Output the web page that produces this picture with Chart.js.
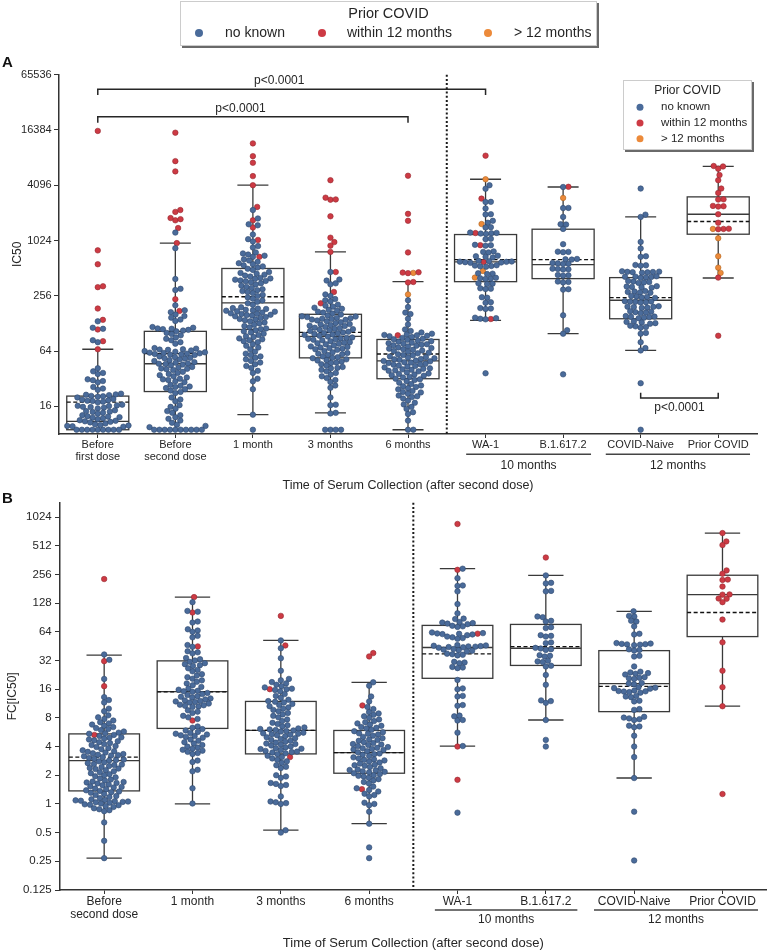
<!DOCTYPE html>
<html>
<head>
<meta charset="utf-8">
<title>IC50 / FC[IC50] by time of serum collection</title>
<script src="https://cdn.jsdelivr.net/npm/chart.js@4"></script>
<style>
  body { margin: 0; background: #fff; overflow: hidden; }
  #wrap { position: relative; width: 767px; height: 951px; overflow: hidden; }
  canvas { position: absolute; left: 0; }
  #cA { top: 0; }
  #cB { top: 488px; }
</style>
</head>
<body>
<div id="wrap">
  <canvas id="cA" width="767" height="500"></canvas>
  <canvas id="cB" width="770" height="463"></canvas>
</div>
<script>
const FONT = "'Liberation Sans', Arial, sans-serif";
const TEXT = '#262626';
const hueNames = ['no known', 'within 12 months', '> 12 months'];
const hueFill = ['#4a6b9a', '#cd3a44', '#ec8a3a'];
const hueEdge = ['#30496f', '#962a31', '#b0651f'];

// ---------- panel A : IC50 ----------
const catsA = [['Before', 'first dose'], ['Before', 'second dose'], '1 month', '3 months', '6 months',
               'WA-1', 'B.1.617.2', 'COVID-Naive', 'Prior COVID'];
const ticksA = [16, 64, 256, 1024, 4096, 16384, 65536];

const icNoKnown = [
  [135, 115, 112, 84, 80, 41.6, 38.5, 36, 37, 31.5, 30.2, 29.2, 30.8, 26, 25, 24.2,
   22, 21.6, 21.2, 20.8, 20.4, 20, 21.4, 20.6, 19.2, 18.9, 18.6, 18.3, 18, 17.7, 18.4,
   16.7, 16.4, 16.1, 15.8, 15.5, 15.2, 16.2, 15.7, 14.5, 14.2, 13.9, 13.6, 13.3, 14,
   12.8, 12.5, 12.2, 11.9, 11.6, 12.35, 12.05, 11.3, 11.0, 10.7, 10.4, 11.15, 10.85,
   10.2, 10.0, 9.8, 9.6, 9.9, 9.7, 8.9, 8.9, 8.9, 8.9, 8.9, 8.9, 8.9, 8.9, 8.9],
  [1250, 845, 390, 305, 296, 202, 178, 170, 160, 154, 148, 141, 136,
   117, 115, 113, 111, 109, 107, 105, 112, 101, 98, 95, 90, 87, 84, 80, 77,
   69, 68, 67, 66, 65, 64, 63, 62, 66.5, 61.5, 61, 60.5, 60, 59.5, 59, 58.5, 58,
   56, 55, 54, 53, 52, 51, 50, 53.5, 48.5, 47.8, 47, 46.3, 45.6, 44.9, 46.6,
   43, 42.2, 41.4, 40.6, 39.8, 41, 38, 37, 36, 35, 34, 33, 32, 31, 30, 29.3, 31.5,
   27.5, 26.8, 26, 25.3, 24.6, 26.3, 23.8, 23, 22.3, 20, 19, 18.2, 16.5, 15.8, 15.1, 14.2, 13.6,
   12.8, 12.2, 11.7, 11.2, 10.6, 10.1, 9.8, 9.5, 8.9, 8.9, 8.9, 8.9, 8.9, 8.9, 8.9, 8.9, 8.9, 8.9],
  [2200, 1780, 1500, 1540, 1190, 1060, 1000, 860, 890, 760, 740, 720, 700, 680,
   640, 620, 600, 580, 565, 550, 535, 520, 505, 490, 465, 455, 445, 435, 425, 415,
   400, 392, 384, 376, 368, 360, 396, 372, 350, 340, 330, 320, 312, 302, 295, 288, 281, 274,
   262, 254, 246, 238, 228, 220, 212, 204, 192, 188, 184, 180, 176, 172, 168, 186, 178, 174,
   165, 162, 159, 156, 153, 150, 158, 163, 147, 143, 139, 135, 131, 141, 128, 124, 120, 116, 113,
   111, 108, 105, 102, 99, 96, 93, 91, 88, 86, 84, 82, 80, 76, 73, 70, 67,
   63, 60, 58, 56, 54, 52, 50, 48, 46, 44, 42, 39, 37, 32, 30, 24.6, 13, 8.9],
  [465, 385, 375, 342, 350, 265, 255, 236, 229, 222, 205, 200, 195, 190, 185, 180, 176, 172, 168, 164, 160,
   156, 153, 150, 147, 144, 141, 138, 135, 152, 146, 140, 143, 132, 129, 126, 123, 120, 117, 125, 121,
   115, 112, 109, 106, 111, 114, 108, 104, 102, 100, 98, 96, 94, 101, 97,
   92, 90, 88, 86, 84, 89, 87, 85, 82, 80, 78, 76, 74, 79, 77, 72, 70, 68, 66, 64, 71, 69, 67,
   62, 60, 58, 56, 61, 59, 55, 53.5, 52, 50.5, 54, 51, 49, 47.5, 46, 44.5, 48, 43, 41.5, 40, 38.5, 42,
   37, 35.5, 34, 32.5, 31, 29.5, 27, 25.5, 20, 16.7, 16.5, 13.6, 13.4, 8.9, 8.9, 8.9, 8.9],
  [229, 193, 168, 162, 144, 125, 110, 106, 102, 99, 97, 95, 93, 91, 96, 94,
   89, 87, 85, 83, 81, 79, 86, 82, 78, 76, 74, 72, 70, 77, 73, 75,
   69, 67, 65, 63, 61.5, 68, 66, 64, 60.5, 59, 57.5, 56, 54.5, 53.5, 58, 55,
   52.5, 51.5, 50.5, 49.5, 48.5, 47.5, 52, 50, 48, 46.5, 45.5, 44.5, 43.5, 42.5, 46, 44,
   41.5, 40.5, 39.5, 38.5, 41, 40, 39, 37.5, 36.5, 35.5, 34.5, 33.5, 36, 35,
   33, 32, 31, 30, 29, 31.5, 28, 27, 26, 25.2, 26.5, 24.5, 23.5, 22.7, 22, 23,
   21, 20.2, 19.5, 20.6, 18.5, 17.5, 16.8, 15.8, 15, 13.8, 13.2, 11.2, 8.9, 8.9],
  [4100, 3750, 2700, 2690, 2290, 1980, 1970, 1600, 1680, 1430, 1420, 1230, 1240, 1220, 1250, 1210,
   1060, 1070, 910, 920, 900, 770, 780, 760, 680, 690, 670, 700, 600, 605, 595, 610, 590, 615, 585, 603,
   541, 546, 536, 551, 531, 446, 450, 442, 394, 398, 390, 402, 347, 350, 344, 306, 309, 303,
   244, 247, 215, 218, 186, 188, 184, 144, 146, 142, 148, 36.7],
  [3920, 2320, 2310, 1850, 1540, 1530, 1370, 935, 770, 775, 765, 640, 645, 635, 573, 578, 568, 583,
   498, 502, 494, 506, 428, 432, 424, 362, 366, 358, 299, 302, 157, 108, 99, 35.7],
  [3770, 1960, 1850, 990, 840, 680, 690, 550, 555, 545, 465, 469, 461, 473, 457, 467, 463,
   410, 414, 406, 418, 402, 412, 362, 366, 358, 370, 354, 320, 323, 317, 326, 314,
   282, 285, 279, 288, 276, 249, 252, 246, 255, 243, 220, 222, 218, 224, 216, 221,
   193, 195, 191, 197, 189, 194, 170, 172, 168, 174, 166, 150, 152, 148, 154, 146, 151,
   131, 133, 129, 135, 127, 117, 119, 115, 121, 99, 101, 80, 69, 65, 28.6, 8.9],
  []
];
const icWithin12 = [
  [16000, 800, 565, 325, 318, 186, 140, 110, 82, 67],
  [15300, 7500, 5800, 2200, 2100, 1700, 1750, 1800, 1400, 960, 235, 175],
  [11700, 8500, 7200, 5150, 4100, 2380, 1700, 1420, 1040, 680],
  [4650, 2850, 2870, 3000, 1880, 1100, 985, 900, 770, 465, 282, 212],
  [5200, 2000, 1680, 760, 452, 458, 462, 362, 358, 95],
  [8600, 2930, 1235, 912, 598, 143],
  [3940],
  [],
  [6560, 6640, 6200, 5290, 4650, 3770, 3380, 2860, 2880, 2420, 2400, 2440, 1980, 1600, 1370, 1362, 1378, 404, 94]
];
const icOver12 = [[], [], [], [], [455, 265], [4760, 1550, 478, 404], [2980], [], [1370, 1085, 690, 519, 455]];

const icQ1     = [8.9, 23.2, 110, 54, 32, 365, 394, 144, 1200];
const icMedian = [11, 46.6, 214, 92.5, 50, 600, 560, 229, 1980];
const icMean   = [17.8, 60, 250, 102.5, 59.5, 635, 635, 244, 1650];
const icQ3     = [20.7, 105, 508, 161, 85.6, 1190, 1360, 404, 3060];
const icLow    = [8.9, 8.9, 13, 13.6, 8.9, 138, 99, 65, 400];
const icHigh   = [67, 960, 4100, 770, 365, 4760, 3920, 1850, 6560];

// significance brackets: from / to category, bracket level, tip level, text position
const sigA = [
  { from: 0, to: 5, y: 45400, tip: 39300, textX: 2.34, below: false },
  { from: 0, to: 4, y: 22900, tip: 19600, textX: 1.84, below: false },
  { from: 7, to: 8, y: 19.7, tip: 22.5, textX: 7.5, below: true }
];

// ---------- panel B : FC[IC50] ----------
const catsB = [['Before', 'second dose'], '1 month', '3 months', '6 months',
               'WA-1', 'B.1.617.2', 'COVID-Naive', 'Prior COVID'];
const ticksB = [0.125, 0.25, 0.5, 1, 2, 4, 8, 16, 32, 64, 128, 256, 512, 1024];

const fcNoKnown = [
  [37, 32.5, 20.5, 13.2, 12.3, 11.6, 10, 9.4, 8.5, 8.1, 7.8, 7.5, 7.2, 7.0, 6.8, 6.6, 6.4, 6.25, 6.1, 5.95,
   5.75, 5.6, 5.45, 5.3, 5.15, 5.0, 5.5, 4.95, 4.85, 4.75, 4.65, 4.55, 4.45, 4.35, 4.25, 4.15, 4.05,
   3.95, 3.85, 3.75, 3.65, 3.58, 3.52, 3.46, 3.4, 3.34, 3.28, 3.22, 3.16, 3.1, 3.04, 3.25,
   2.98, 2.92, 2.86, 2.8, 2.74, 2.89, 2.68, 2.62, 2.56, 2.5, 2.44, 2.59, 2.38, 2.32, 2.26, 2.2, 2.35,
   2.15, 2.1, 2.05, 2.0, 1.95, 1.9, 1.85, 1.8, 1.76, 1.72, 1.68, 1.64, 1.6, 1.7, 1.66,
   1.57, 1.53, 1.49, 1.45, 1.51, 1.43, 1.39, 1.35, 1.31, 1.27, 1.37, 1.33, 1.24, 1.21, 1.18, 1.15,
   1.12, 1.1, 1.08, 1.06, 1.04, 1.09, 1.07, 1.05, 1.03, 1.01, 0.99, 0.97, 0.95, 0.93, 0.98,
   0.9, 0.88, 0.86, 0.84, 0.64, 0.41, 0.27],
  [131, 106, 104, 82, 80, 68, 66, 64, 58, 56, 46.5, 44.5, 40, 39, 38, 34, 33, 32, 31, 30, 29.3, 28.6, 28,
   26.5, 25.5, 24.6, 23, 22.2, 21.4, 20.6, 19.8, 19.1, 18.4, 17.6, 16.9, 16.3,
   15.8, 15.4, 15, 14.6, 14.2, 15.2, 13.9, 13.5, 13.1, 12.8, 13.3,
   12.5, 12.2, 11.9, 11.6, 11.3, 12.05, 11.75, 11.0, 10.7, 10.4, 10.85, 10.55,
   9.6, 9.3, 9, 8.4, 8.1, 7.8, 6.5, 6.3, 6.1, 5.9, 5.7, 5.55, 5.45, 5.35, 5.25, 5.15, 5.05, 4.95,
   4.75, 4.6, 4.45, 4.3, 4.15, 4.0, 3.9, 3.8, 3.7, 3.62, 3.52, 3.42, 3.34, 2.85, 2.75, 2.28, 2.2, 1.46, 1.01],
  [52, 43, 33.8, 25, 20.5, 19.8, 19, 18.4, 17.8, 17.2, 16.7, 16.2, 15.7, 15.2, 16, 14.2, 13.6, 13,
   12.4, 12.0, 11.6, 11.2, 10.9, 11.8, 10.6, 10.3, 10, 9.7, 9.4, 9, 8.7, 8.4, 8.1,
   7.7, 7.4, 7.1, 6.9, 6.7, 6.5, 6.35, 6.2, 6.05, 5.9, 5.75, 5.6, 6.12, 5.97, 5.82,
   5.5, 5.38, 5.26, 5.14, 5.32, 5.44, 5.0, 4.9, 4.8, 4.7, 4.6, 4.5,
   4.4, 4.3, 4.2, 4.1, 4.0, 4.25, 3.92, 3.84, 3.76, 3.68, 3.6, 3.8, 3.54, 3.47, 3.4, 3.33, 3.5,
   3.2, 3.1, 3.0, 2.9, 2.8, 2.7, 2.55, 2.45, 2.38, 2.0, 1.94, 1.88, 1.66, 1.62, 1.58, 1.54,
   1.2, 1.06, 1.04, 1.02, 1.0, 0.53, 0.5],
  [18.9, 17.4, 13.4, 11.9, 10.4, 9.9, 9.2, 8.9, 8.6, 8.3, 8.0, 7.7, 7.4, 7.2, 7.0, 6.8,
   6.6, 6.4, 6.2, 6.0, 5.8, 6.3, 5.65, 5.5, 5.35, 5.2, 5.45, 5.05, 4.9, 4.75, 4.6, 4.45, 4.7,
   4.35, 4.25, 4.15, 4.05, 3.95, 4.2, 3.88, 3.78, 3.68, 3.58, 3.83, 3.73,
   3.48, 3.38, 3.28, 3.18, 3.08, 3.33, 3.0, 2.93, 2.86, 2.79, 2.72, 2.9,
   2.65, 2.58, 2.51, 2.44, 2.37, 2.55, 2.3, 2.25, 2.2, 2.15, 2.1, 2.27, 2.17,
   2.06, 2.0, 1.94, 1.88, 1.82, 1.97, 1.76, 1.7, 1.64, 1.52, 1.46, 1.4, 1.35, 1.28, 1.24, 1.2,
   1.03, 1.0, 0.97, 0.83, 0.62, 0.35, 0.27],
  [294, 234, 194, 196, 170, 125, 100, 87, 88, 79, 80, 78, 81, 77, 73, 74, 72, 61, 62, 60, 63, 59, 61.5, 60.5,
   55, 56, 54, 57, 45, 45.7, 44.3, 46.4, 43.6, 45.3, 44.7, 46, 44, 41, 41.6, 40.4, 42.2, 39.8,
   36.7, 37.2, 36.2, 37.7, 30.5, 31, 30, 27, 27.4, 26.6, 20, 16, 16.3, 13.4, 13.6, 10.7, 10.9,
   8.3, 8.45, 7.5, 7.6, 5.6, 4.05, 0.81],
  [250, 206, 209, 170, 172, 91, 92.5, 82, 83.5, 70, 71.5, 58, 59, 57, 48.6, 49.5, 42, 42.7, 41.3, 43.4,
   35.8, 36.4, 35.2, 31.3, 31.8, 30.8, 27.7, 28.2, 22.6, 17.8, 12, 12.2, 11.5, 7.6, 4.7, 4.0],
  [105, 92.5, 94, 82, 83.5, 73, 60, 61, 47.5, 48.1, 46.9, 48.7, 46.3, 47.8, 47.2, 41.3, 41.9, 40.7,
   35.2, 35.8, 27.7, 23.6, 24, 23.2, 24.4, 22.8, 20.8, 21.1, 20.5, 21.4, 18.3, 18.6, 18,
   16.4, 16.6, 16.2, 16.8, 15.1, 15.3, 14.9, 15.5, 14.7, 15.2, 13.4, 13.6, 13.2, 11.9, 12.1, 9.7, 9.9,
   7.9, 8.05, 7.75, 8.2, 7.6, 6.5, 6.62, 6.38, 5.2, 4.0, 3.1, 1.87, 0.83, 0.255],
  []
];
const fcWithin12 = [
  [229, 31.5, 17.2, 5.3],
  [148, 102, 45, 7.5],
  [94, 46, 16, 3.1],
  [38.3, 35.3, 10.8, 1.43],
  [866, 286, 61.2, 4.0, 1.79],
  [385],
  [],
  [695, 568, 520, 282, 260, 224, 226, 191, 157, 158, 142, 143, 131, 86, 49.6, 25, 16.8, 10.6, 1.27]
];
const fcOver12 = [[], [], [], [], [], [], [], []];

const fcQ1     = [1.37, 6.2, 3.35, 2.1, 20.8, 28.4, 9.3, 57];
const fcMedian = [2.85, 15.1, 5.9, 3.46, 43.8, 43, 18.3, 157];
const fcMean   = [3.1, 15, 5.9, 3.46, 37.5, 44.7, 17.1, 102];
const fcQ3     = [5.43, 31.7, 11.9, 5.9, 74.7, 76.5, 40.6, 251];
const fcLow    = [0.27, 1.0, 0.53, 0.62, 4.05, 7.6, 1.87, 10.6];
const fcHigh   = [36.5, 148, 52, 18.9, 294, 250, 105, 695];

// ---------- drawing helpers ----------
function boxPlugin(st) {
  return {
    id: 'boxes',
    beforeDatasetsDraw(chart) {
      const { ctx, scales: { x, y } } = chart;
      const unit = x.getPixelForValue(1) - x.getPixelForValue(0);
      const hw = unit * 0.4, cw = unit * 0.2;
      const py = v => y.getPixelForValue(v);
      ctx.save();
      ctx.lineWidth = 1.3;
      st.q1.forEach((q1, i) => {
        const cx = x.getPixelForValue(i);
        const yQ1 = py(q1), yQ3 = py(st.q3[i]), yLo = py(st.lo[i]), yHi = py(st.hi[i]);
        ctx.strokeStyle = '#3a3a3a';
        ctx.setLineDash([]);
        ctx.beginPath();
        ctx.moveTo(cx, yQ3); ctx.lineTo(cx, yHi);
        ctx.moveTo(cx - cw, yHi); ctx.lineTo(cx + cw, yHi);
        ctx.moveTo(cx, yQ1); ctx.lineTo(cx, yLo);
        ctx.moveTo(cx - cw, yLo); ctx.lineTo(cx + cw, yLo);
        ctx.stroke();
        ctx.strokeRect(cx - hw, yQ3, 2 * hw, yQ1 - yQ3);
        ctx.beginPath();
        ctx.moveTo(cx - hw, py(st.med[i])); ctx.lineTo(cx + hw, py(st.med[i]));
        ctx.stroke();
        ctx.setLineDash([4, 2.5]);
        ctx.strokeStyle = '#111';
        ctx.beginPath();
        ctx.moveTo(cx - hw, py(st.mean[i])); ctx.lineTo(cx + hw, py(st.mean[i]));
        ctx.stroke();
      });
      ctx.restore();
    }
  };
}

function drawLegend(ctx, L) {
  ctx.save();
  ctx.fillStyle = '#6a6a6a';
  ctx.fillRect(L.x + 2, L.y + 2, L.w, L.h);
  ctx.fillStyle = '#fff';
  ctx.fillRect(L.x, L.y, L.w, L.h);
  ctx.strokeStyle = '#cccccc';
  ctx.lineWidth = 1;
  ctx.strokeRect(L.x + 0.5, L.y + 0.5, L.w - 1, L.h - 1);
  ctx.fillStyle = TEXT;
  ctx.textAlign = 'center';
  ctx.textBaseline = 'middle';
  ctx.font = L.titleSize + 'px ' + FONT;
  ctx.fillText('Prior COVID', L.titleX, L.titleY);
  ctx.font = L.size + 'px ' + FONT;
  ctx.textAlign = 'left';
  L.items.forEach((it, h) => {
    ctx.beginPath();
    ctx.arc(it.dx, it.y, L.r, 0, Math.PI * 2);
    ctx.fillStyle = hueFill[h];
    ctx.fill();
    ctx.fillStyle = TEXT;
    ctx.fillText(hueNames[h], it.tx, it.y);
  });
  ctx.restore();
}

function annotPlugin(a) {
  return {
    id: 'annot',
    beforeDatasetsDraw(chart) {
      const { ctx, chartArea: ca, scales: { x } } = chart;
      const sx = x.getPixelForValue(a.sep);
      ctx.save();
      ctx.strokeStyle = '#1a1a1a';
      ctx.lineWidth = 2;
      ctx.setLineDash([2, 2.2]);
      ctx.beginPath();
      ctx.moveTo(sx, ca.top); ctx.lineTo(sx, ca.bottom);
      ctx.stroke();
      ctx.restore();
    },
    afterDatasetsDraw(chart) {
      const { ctx, scales: { x, y } } = chart;
      ctx.save();
      ctx.strokeStyle = TEXT;
      ctx.fillStyle = TEXT;
      ctx.lineWidth = 1.5;
      ctx.font = '12px ' + FONT;
      ctx.textAlign = 'center';
      (a.sig || []).forEach(s => {
        const x1 = x.getPixelForValue(s.from), x2 = x.getPixelForValue(s.to);
        const yl = y.getPixelForValue(s.y), yt = y.getPixelForValue(s.tip);
        ctx.beginPath();
        ctx.moveTo(x1, yt); ctx.lineTo(x1, yl); ctx.lineTo(x2, yl); ctx.lineTo(x2, yt);
        ctx.stroke();
        ctx.textBaseline = s.below ? 'middle' : 'alphabetic';
        ctx.fillText('p<0.0001', x.getPixelForValue(s.textX), s.below ? yl + 10 : yl - 5);
      });
      ctx.restore();
    },
    afterDraw(chart) {
      const { ctx, chartArea: ca, scales: { x } } = chart;
      ctx.save();
      ctx.strokeStyle = '#444';
      ctx.fillStyle = TEXT;
      ctx.lineWidth = 1.5;
      ctx.font = '12px ' + FONT;
      ctx.textAlign = 'center';
      ctx.textBaseline = 'middle';
      a.spans.forEach(sp => {
        const x1 = x.getPixelForValue(sp.from), x2 = x.getPixelForValue(sp.to);
        ctx.beginPath();
        ctx.moveTo(x1, ca.bottom + a.lineDy); ctx.lineTo(x2, ca.bottom + a.lineDy);
        ctx.stroke();
        ctx.fillText(sp.text, (x1 + x2) / 2, ca.bottom + a.textDy);
      });
      ctx.font = 'bold 15px ' + FONT;
      ctx.textAlign = 'left';
      ctx.fillStyle = '#111';
      ctx.fillText(a.letter, 2, a.letterY);
      ctx.restore();
      (a.legends || []).forEach(L => drawLegend(ctx, L));
    }
  };
}

function makeChart(id, cfg) {
  const datasets = [cfg.blue, cfg.red, cfg.orange].map((groups, h) => ({
    label: hueNames[h],
    data: groups.flatMap((vals, g) => vals.map(v => ({ x: g, y: v, g: g }))),
    backgroundColor: hueFill[h],
    borderColor: hueEdge[h],
    borderWidth: 0.6,
    pointRadius: 2.75,
    pointHoverRadius: 2.75
  }));
  const tickFont = { family: FONT, size: cfg.xFont, lineHeight: cfg.xLine };
  return new Chart(document.getElementById(id), {
    type: 'scatter',
    data: { datasets },
    options: {
      responsive: false,
      animation: false,
      devicePixelRatio: 1,
      events: [],
      layout: { padding: cfg.padding },
      plugins: { legend: { display: false }, tooltip: { enabled: false } },
      scales: {
        x: {
          type: 'linear',
          min: -0.5,
          max: cfg.cats.length - 0.5,
          afterBuildTicks: s => { s.ticks = cfg.cats.map((c, i) => ({ value: i })); },
          afterFit: s => { s.height = cfg.xHeight; },
          ticks: {
            callback: v => cfg.cats[v],
            font: tickFont, color: TEXT, padding: cfg.xPad,
            maxRotation: 0, autoSkip: false
          },
          grid: { drawOnChartArea: false, drawTicks: true, tickLength: 4, color: '#333' },
          border: { display: true, color: '#333', width: 1.5 },
          title: {
            display: true,
            text: 'Time of Serum Collection (after second dose)',
            font: { family: FONT, size: cfg.titleFont },
            color: TEXT,
            padding: { top: 0, bottom: cfg.titlePad }
          }
        },
        y: {
          type: 'logarithmic',
          min: cfg.yMin,
          max: cfg.yMax,
          afterBuildTicks: s => { s.ticks = cfg.yTicks.map(v => ({ value: v })); },
          afterFit: s => { s.width = cfg.yWidth; },
          ticks: {
            callback: v => String(v),
            font: { family: FONT, size: cfg.yFont }, color: TEXT, padding: cfg.yPad, autoSkip: false
          },
          grid: { drawOnChartArea: false, drawTicks: true, tickLength: 5, color: '#333' },
          border: { display: true, color: '#333', width: 1.5 },
          title: {
            display: true, text: cfg.yTitle,
            font: { family: FONT, size: 12 }, color: TEXT,
            padding: { top: cfg.yTitlePad, bottom: 0 }
          }
        }
      }
    },
    plugins: [boxPlugin(cfg.stats), annotPlugin(cfg.annot)]
  });
}

// beeswarm placement: every point keeps its value, the horizontal offset is found
// in pixel space so that no two markers overlap
function swarm(chart, d) {
  const xs = chart.scales.x, ys = chart.scales.y;
  const unit = xs.getPixelForValue(1) - xs.getPixelForValue(0);
  const groups = {};
  chart.data.datasets.forEach(ds => ds.data.forEach(p => {
    (groups[p.g] = groups[p.g] || []).push({ p: p, py: ys.getPixelForValue(p.y) });
  }));
  Object.values(groups).forEach(list => {
    list.sort((a, b) => b.py - a.py);
    const placed = [];
    list.forEach(it => {
      const near = placed.filter(q => Math.abs(q.py - it.py) < d);
      const cands = [0];
      near.forEach(q => {
        const dx = Math.sqrt(d * d - (q.py - it.py) ** 2);
        cands.push(q.ox + dx, q.ox - dx);
      });
      cands.sort((a, b) => Math.abs(a) - Math.abs(b));
      it.ox = cands.find(c => near.every(q => (c - q.ox) ** 2 + (q.py - it.py) ** 2 >= d * d - 0.01));
      placed.push(it);
      it.p.x = it.p.g + it.ox / unit;
    });
  });
  chart.update('none');
}

const chartA = makeChart('cA', {
  cats: catsA, blue: icNoKnown, red: icWithin12, orange: icOver12,
  yMin: 8, yMax: 65536, yTicks: ticksA, yTitle: 'IC50', yFont: 11, yPad: 2.3, yWidth: 59, yTitlePad: 10,
  xFont: 11, xLine: 1.06, xPad: 1, xHeight: 66, titleFont: 12.5, titlePad: 6.5,
  padding: { top: 74.7, right: 10, left: 0, bottom: 0 },
  stats: { q1: icQ1, med: icMedian, mean: icMean, q3: icQ3, lo: icLow, hi: icHigh },
  annot: {
    sep: 4.5, sig: sigA, letter: 'A', letterY: 63, lineDy: 20.3, textDy: 32,
    spans: [{ text: '10 months', from: 4.75, to: 6.36 }, { text: '12 months', from: 6.55, to: 8.41 }],
    legends: [
      { x: 180, y: 1, w: 417, h: 45, titleX: 388.5, titleY: 14, titleSize: 14.5, size: 14, r: 4,
        items: [{ dx: 199, tx: 225, y: 33 }, { dx: 322, tx: 347, y: 33 }, { dx: 488, tx: 514, y: 33 }] },
      { x: 623, y: 80, w: 129, h: 70, titleX: 687.5, titleY: 91, titleSize: 12, size: 11.5, r: 3.5,
        items: [{ dx: 640, tx: 661, y: 107.3 }, { dx: 640, tx: 661, y: 123 }, { dx: 640, tx: 661, y: 138.7 }] }
    ]
  }
});

const chartB = makeChart('cB', {
  cats: catsB, blue: fcNoKnown, red: fcWithin12, orange: fcOver12,
  yMin: 0.125, yMax: 1448, yTicks: ticksB, yTitle: 'FC[IC50]', yFont: 11.5, yPad: 3.3, yWidth: 60, yTitlePad: 5,
  xFont: 12, xLine: 1.05, xPad: 1.4, xHeight: 61, titleFont: 13, titlePad: 0,
  padding: { top: 14.7, right: 1, left: 0, bottom: 0 },
  stats: { q1: fcQ1, med: fcMedian, mean: fcMean, q3: fcQ3, lo: fcLow, hi: fcHigh },
  annot: {
    sep: 3.5, letter: 'B', letterY: 11.3, lineDy: 20, textDy: 30,
    spans: [{ text: '10 months', from: 3.744, to: 5.357 }, { text: '12 months', from: 5.545, to: 7.402 }]
  }
});

swarm(chartA, 5.3);
swarm(chartB, 5.3);
</script>
</body>
</html>
